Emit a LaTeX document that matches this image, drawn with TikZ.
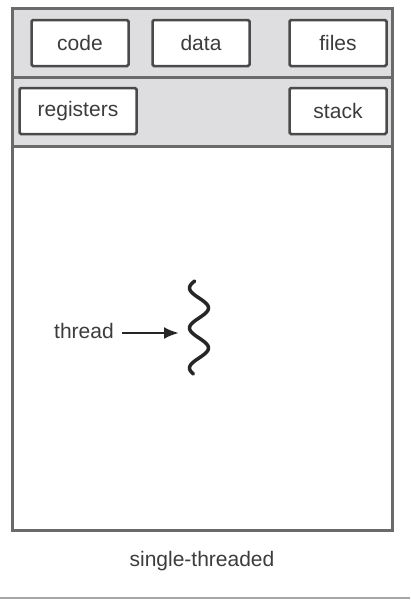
\documentclass[tikz,border=0pt]{standalone}
\usepackage{fontspec}
\setmainfont{Liberation Sans}
\usetikzlibrary{arrows.meta}
\definecolor{lightgrey}{HTML}{DEDDE0}
\definecolor{edgegrey}{HTML}{6A6A6A}
\definecolor{boxgrey}{HTML}{4A4A4A}
\definecolor{textgrey}{HTML}{3C3C3C}
\tikzset{
  membox/.style={draw=boxgrey,line width=2.5pt,fill=white,rounded corners=1.5pt,
    minimum height=46pt,inner sep=0pt,text=textgrey,font=\fontsize{21}{25}\selectfont},
  plaintext/.style={text=textgrey,font=\fontsize{21}{25}\selectfont,inner sep=0pt}
}
\begin{document}
\begin{tikzpicture}[x=1pt,y=-1pt]
\useasboundingbox (0,0) rectangle (410,600);
%\draw[step=50,gray,very thin] (0,0) grid (410,600);
\fill[lightgrey] (12,8) rectangle (392,146);
\draw[edgegrey,line width=3pt] (12,8) rectangle (392,530);
\draw[edgegrey,line width=3pt] (12,77) -- (392,77);
\draw[edgegrey,line width=3pt] (12,146) -- (392,146);
\node[membox,minimum width=97pt] (code) at (80,43) {code};
\node[membox,minimum width=97pt] (data) at (201,43) {data};
\node[membox,minimum width=97pt] (files) at (338,43) {files};
\node[membox,minimum width=117pt] (registers) at (78,111) {registers};
\node[membox,minimum width=97pt] (stack) at (338,111) {stack};
\node[plaintext] (thread) at (84,331) {thread};
\coordinate (tip) at (179,333);
\draw[black!85,line width=2.6pt,-{Latex[length=15pt,width=12pt]}] (thread.east) ++(8,2) -- (tip);
\draw[black!85,line width=3.5pt,line cap=round] plot[domain=281:374,smooth,samples=60]
  ({199-9.5*cos((\x-288)*9)},\x);
\node[plaintext] (caption) at (202,561) {single-threaded};
\draw[black!35,line width=2pt] (0,598) -- (410,598);
\end{tikzpicture}
\end{document}
